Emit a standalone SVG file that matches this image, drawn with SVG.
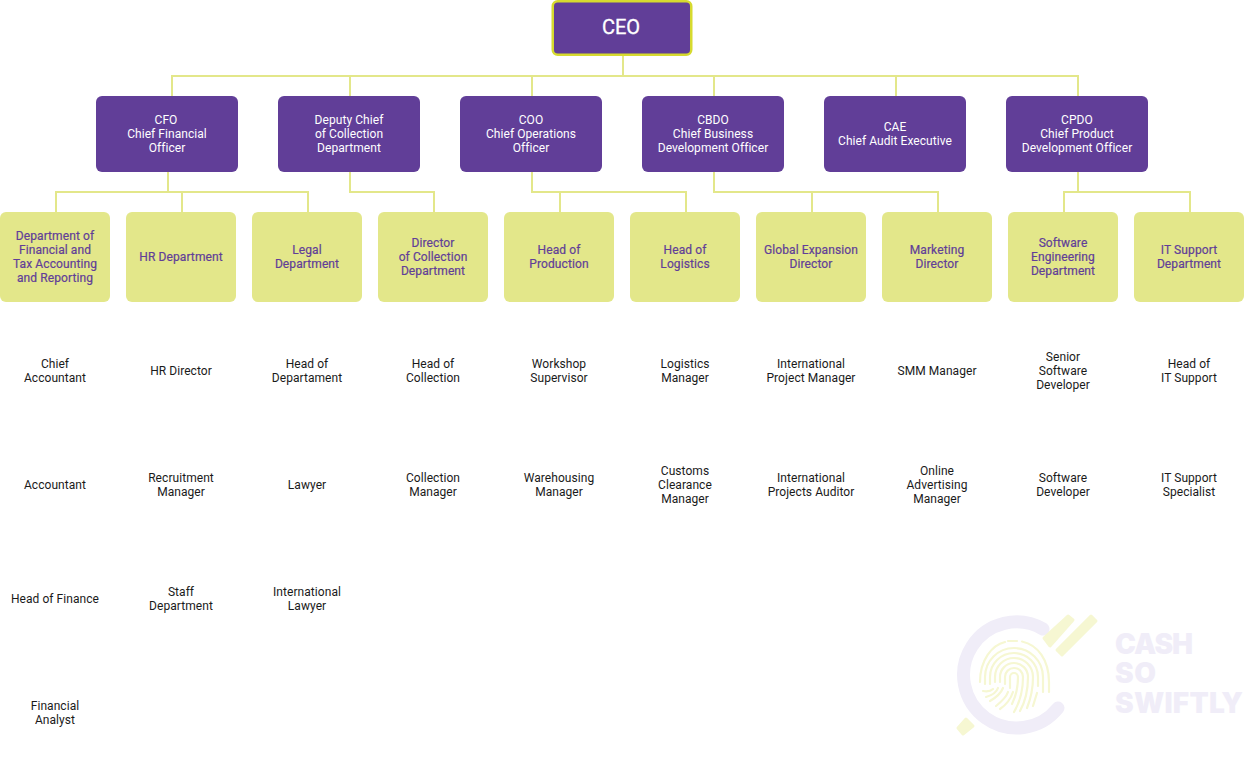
<svg xmlns="http://www.w3.org/2000/svg" width="1244" height="758" viewBox="0 0 1244 758">
<style>
text{font-family:Roboto,"Liberation Sans",sans-serif;font-size:12px;font-weight:400;letter-spacing:.06px;text-anchor:middle}
.p rect{fill:#613e98}
.p text{fill:#fff}
.y rect{fill:#e3e78a}
.y text{fill:#613e98;stroke:#613e98;stroke-width:.2px;letter-spacing:.1px}
.t text{fill:#1a1a1a}
#connectors path{fill:none;stroke:#e3e78a;stroke-width:2}
#logo .w{font-family:Inter,"Liberation Sans",sans-serif;font-size:28px;font-weight:900;letter-spacing:0;fill:#f0edf8;text-anchor:start}
#fp path{fill:none;stroke:#f6f7d2;stroke-width:2.2;stroke-linecap:round}
</style>
<g id="connectors">
<path d="M623 55V76M172 96V76H1078V96M350 76V96M532 76V96M714 76V96M896 76V96"/>
<path d="M168 172V192M56 212V192H308V212M182 192V212"/>
<path d="M350 172V192H434V212"/>
<path d="M532 172V192H686V212M560 192V212"/>
<path d="M714 172V192H938V212M812 192V212"/>
<path d="M1078 172V192M1064 212V192H1190V212"/>
</g>
<g id="ceo" class="p"><rect x="552.750" y="1.250" width="138.500" height="53.500" rx="5" stroke="#d6da2f" stroke-width="2.500"/><text x="621" y="34" stroke="#fff" stroke-width=".3" style="font-size:20px;letter-spacing:0">CEO</text></g>
<g id="cfo" class="p"><rect x="96" y="96" width="142" height="76" rx="6"/><text x="166" y="124">CFO</text><text x="167" y="138">Chief Financial</text><text x="167" y="152">Officer</text></g>
<g id="deputy" class="p"><rect x="278" y="96" width="142" height="76" rx="6"/><text x="349" y="124">Deputy Chief</text><text x="349" y="138">of Collection</text><text x="349" y="152">Department</text></g>
<g id="coo" class="p"><rect x="460" y="96" width="142" height="76" rx="6"/><text x="531" y="124">COO</text><text x="531" y="138">Chief Operations</text><text x="531" y="152">Officer</text></g>
<g id="cbdo" class="p"><rect x="642" y="96" width="142" height="76" rx="6"/><text x="713" y="124">CBDO</text><text x="713" y="138">Chief Business</text><text x="713" y="152">Development Officer</text></g>
<g id="cae" class="p"><rect x="824" y="96" width="142" height="76" rx="6"/><text x="895" y="131">CAE</text><text x="895" y="145">Chief Audit Executive</text></g>
<g id="cpdo" class="p"><rect x="1006" y="96" width="142" height="76" rx="6"/><text x="1077" y="124">CPDO</text><text x="1077" y="138">Chief Product</text><text x="1077" y="152">Development Officer</text></g>

<g id="dept-fin" class="y"><rect x="0" y="212" width="110" height="90" rx="6"/><text x="55" y="240">Department of</text><text x="55" y="254">Financial and</text><text x="55" y="268">Tax Accounting</text><text x="55" y="282">and Reporting</text></g>
<g id="dept-hr" class="y"><rect x="126" y="212" width="110" height="90" rx="6"/><text x="181" y="261">HR Department</text></g>
<g id="dept-legal" class="y"><rect x="252" y="212" width="110" height="90" rx="6"/><text x="307" y="254">Legal</text><text x="307" y="268">Department</text></g>
<g id="dept-coll" class="y"><rect x="378" y="212" width="110" height="90" rx="6"/><text x="433" y="247">Director</text><text x="433" y="261">of Collection</text><text x="433" y="275">Department</text></g>
<g id="dept-prod" class="y"><rect x="504" y="212" width="110" height="90" rx="6"/><text x="559" y="254">Head of</text><text x="559" y="268">Production</text></g>
<g id="dept-log" class="y"><rect x="630" y="212" width="110" height="90" rx="6"/><text x="685" y="254">Head of</text><text x="685" y="268">Logistics</text></g>
<g id="dept-global" class="y"><rect x="756" y="212" width="110" height="90" rx="6"/><text x="811" y="254">Global Expansion</text><text x="811" y="268">Director</text></g>
<g id="dept-mkt" class="y"><rect x="882" y="212" width="110" height="90" rx="6"/><text x="937" y="254">Marketing</text><text x="937" y="268">Director</text></g>
<g id="dept-sw" class="y"><rect x="1008" y="212" width="110" height="90" rx="6"/><text x="1063" y="247">Software</text><text x="1063" y="261">Engineering</text><text x="1063" y="275">Department</text></g>
<g id="dept-it" class="y"><rect x="1134" y="212" width="110" height="90" rx="6"/><text x="1189" y="254">IT Support</text><text x="1189" y="268">Department</text></g>

<g id="r1" class="t">
<text x="55" y="368">Chief</text><text x="55" y="382">Accountant</text>
<text x="181" y="375">HR Director</text>
<text x="307" y="368">Head of</text><text x="307" y="382">Departament</text>
<text x="433" y="368">Head of</text><text x="433" y="382">Collection</text>
<text x="559" y="368">Workshop</text><text x="559" y="382">Supervisor</text>
<text x="685" y="368">Logistics</text><text x="685" y="382">Manager</text>
<text x="811" y="368">International</text><text x="811" y="382">Project Manager</text>
<text x="937" y="375">SMM Manager</text>
<text x="1063" y="361">Senior</text><text x="1063" y="375">Software</text><text x="1063" y="389">Developer</text>
<text x="1189" y="368">Head of</text><text x="1189" y="382">IT Support</text>
</g>
<g id="r2" class="t">
<text x="55" y="489">Accountant</text>
<text x="181" y="482">Recruitment</text><text x="181" y="496">Manager</text>
<text x="307" y="489">Lawyer</text>
<text x="433" y="482">Collection</text><text x="433" y="496">Manager</text>
<text x="559" y="482">Warehousing</text><text x="559" y="496">Manager</text>
<text x="685" y="475">Customs</text><text x="685" y="489">Clearance</text><text x="685" y="503">Manager</text>
<text x="811" y="482">International</text><text x="811" y="496">Projects Auditor</text>
<text x="937" y="475">Online</text><text x="937" y="489">Advertising</text><text x="937" y="503">Manager</text>
<text x="1063" y="482">Software</text><text x="1063" y="496">Developer</text>
<text x="1189" y="482">IT Support</text><text x="1189" y="496">Specialist</text>
</g>
<g id="r3" class="t">
<text x="55" y="603">Head of Finance</text>
<text x="181" y="596">Staff</text><text x="181" y="610">Department</text>
<text x="307" y="596">International</text><text x="307" y="610">Lawyer</text>
</g>
<g id="r4" class="t"><text x="55" y="710">Financial</text><text x="55" y="724">Analyst</text></g>

<g id="logo">
<path d="M1043 629A53 53 0 1 0 1058 708" fill="none" stroke="#f0edf8" stroke-width="13" stroke-linecap="round"/>
<g fill="#f6f7d2" stroke="#f6f7d2" stroke-width="3" stroke-linejoin="round">
<path d="M1044 638L1068 616L1073 620L1050 646Z"/>
<path d="M1057 650L1091 616L1096 621L1062 655Z"/>
<path d="M966 719L973 726L963 734L958 728Z"/>
</g>
<g id="fp">
<path d="M1010 688V677A4 4 0 0 1 1018 677C1018 686 1016 696 1012 704"/>
<path d="M1005 684V677A9 9 0 0 1 1023 677C1023 690 1020 702 1014 712"/>
<path d="M1000 682V677A14 14 0 0 1 1028 677C1028 692 1025 702 1020 711"/>
<path d="M995 682V677A19 19 0 0 1 1033 677C1033 690 1031 698 1027 708"/>
<path d="M990 684V677A24 24 0 0 1 1038 677V686M1037 693L1033 706"/>
<path d="M985 684V677A29 29 0 0 1 1043 677V692"/>
<path d="M980 682C980 660 992 645 1005 642M1008 641H1017M1022 641.500C1038 645 1049 660 1049 682V692"/>
<path d="M1008 692C1006 698 1001 702 996 706M1003 688C1001 693 997 697 990 701M998 688C997 691 993 695 986 697M993 689C991 691 989 692 983 691"/>
<path d="M1013 692C1011 698 1006 705 1000 709"/>
</g>
<text class="w" x="1115" y="654" textLength="78">CASH</text>
<text class="w" x="1115" y="683" textLength="41">SO</text>
<text class="w" x="1115" y="713" textLength="128">SWIFTLY</text>
</g>
</svg>
